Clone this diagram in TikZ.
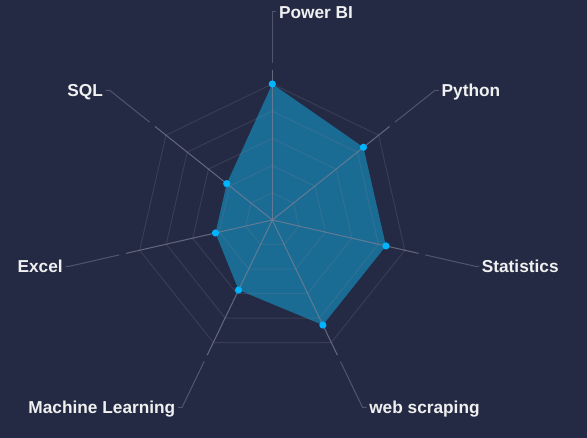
\documentclass[tikz,border=0pt]{standalone}
\usepackage{fontspec}
\setmainfont{Liberation Sans}
\definecolor{bgc}{RGB}{37,42,68}
\definecolor{areac}{RGB}{20,149,198}
\definecolor{dotc}{RGB}{0,180,255}
\definecolor{gridc}{RGB}{125,128,148}
\definecolor{lblc}{RGB}{240,240,240}
\tikzset{
  ringline/.style={draw=gridc, draw opacity=0.22, line width=0.75pt},
  axisline/.style={draw=gridc, draw opacity=0.72, line width=0.75pt},
  leaderline/.style={draw=gridc, draw opacity=0.5, line width=0.75pt},
  areafill/.style={fill=areac, fill opacity=0.62},
  dotmark/.style={fill=dotc},
  lab/.style={text=lblc, inner sep=0pt, font=\fontsize{12.95pt}{15pt}\selectfont\bfseries}
}
\begin{document}
\begin{tikzpicture}[x=0.75pt,y=0.75pt]
\fill[bgc] (-272.3,-218) rectangle (314.7,220);
\useasboundingbox (-272.3,-218) rectangle (314.7,220);
% data area
\fill[areafill] (90:136) -- (38.5714:116.57) -- (-12.857:116.57) -- (-64.286:116.57)
  -- (-115.714:77.71) -- (-167.143:58.29) -- (141.4286:58.29) -- cycle;
% rings
\foreach \k in {1,...,5}{
  \pgfmathsetmacro{\rr}{27.2*\k}
  \draw[ringline] (90:\rr) -- (38.5714:\rr) -- (-12.857:\rr) -- (-64.286:\rr)
    -- (-115.714:\rr) -- (-167.143:\rr) -- (141.4286:\rr) -- cycle;
}
% axes and labels
\foreach \a/\s/\t [count=\i] in {90/1/Power BI, 38.5714/1/Python, -12.857/1/Statistics, -64.286/1/web scraping, -115.714/-1/Machine Learning, -167.143/-1/Excel, 141.4286/-1/SQL}{
  \coordinate (c\i) at (0,0);
  \coordinate (o\i) at (\a:150);
  \coordinate (ls\i) at (\a:157);
  \coordinate (le\i) at (\a:208);
  \coordinate (lh\i) at ([shift={(4*\s,0)}]le\i);
  \draw[axisline] (c\i) -- (o\i);
  \draw[leaderline] (ls\i) -- (le\i) -- (lh\i);
  \ifnum\s=1
    \node[lab, anchor=base west] (t\i) at ([shift={(2.5,-6.2)}]lh\i) {\t};
  \else
    \node[lab, anchor=base east] (t\i) at ([shift={(-2.5,-6.2)}]lh\i) {\t};
  \fi
}
% points
\foreach \a/\r [count=\j] in {90/136, 38.5714/116.57, -12.857/116.57, -64.286/116.57, -115.714/77.71, -167.143/58.29, 141.4286/58.29}{
  \fill[dotmark] (\a:\r) circle (3.6);
}
\end{tikzpicture}
\end{document}
